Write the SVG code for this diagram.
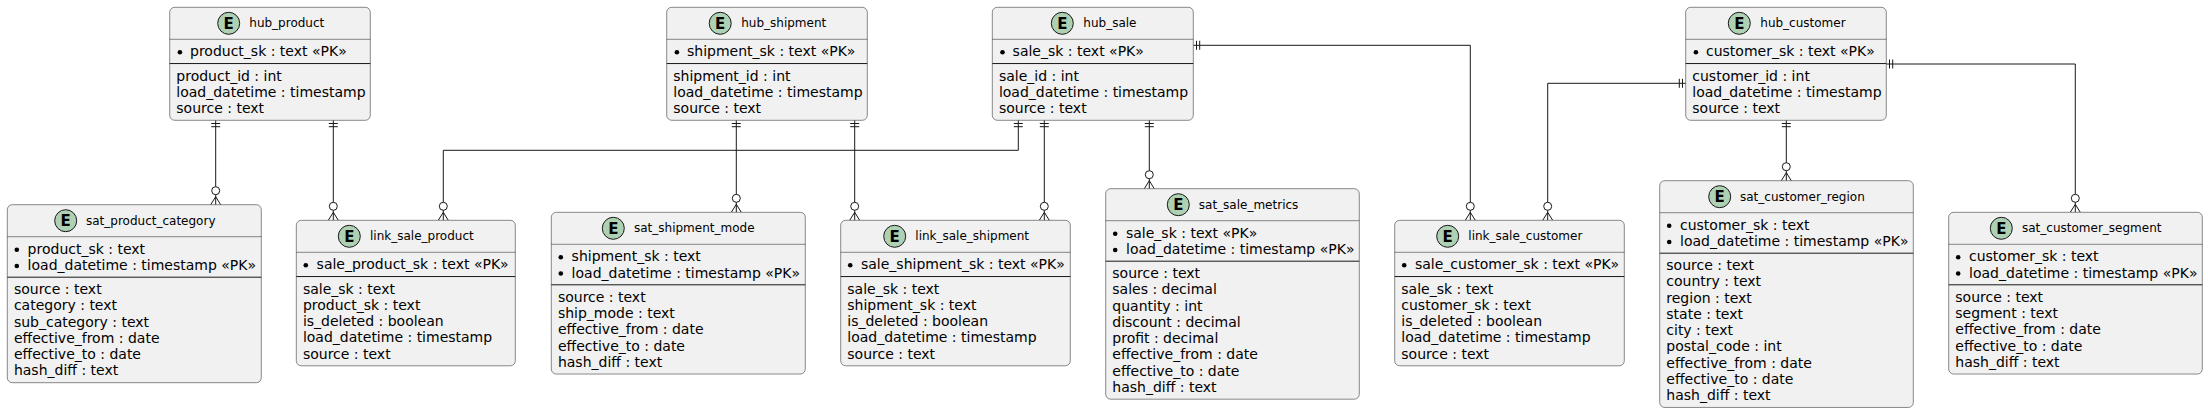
<svg xmlns="http://www.w3.org/2000/svg" xmlns:xlink="http://www.w3.org/1999/xlink" width="2208" height="413" viewBox="0 0 2208 413">
<style>
.box{fill:#F1F1F1;stroke:#181818;stroke-width:0.5}
.hs{stroke:#181818;stroke-width:0.5}
.ts{stroke:#181818;stroke-width:1}
.ec{fill:#ADD1B2;stroke:#181818;stroke-width:1}
.el{font-family:"DejaVu Sans",sans-serif;font-weight:bold;font-size:15px;text-anchor:middle;fill:#000}
.tt{font-family:"DejaVu Sans",sans-serif;font-size:12px;fill:#000}
.at{font-family:"DejaVu Sans",sans-serif;font-size:14px;fill:#000}
.bl{fill:#000}
.cn{fill:none;stroke:#181818;stroke-width:1}
</style>
<defs>
<g id="many" class="cn"><circle cx="0" cy="-14" r="4"/><path d="M-5,0 L0,-8 L5,0 M0,-10 V0"/></g>
<g id="oneD" class="cn"><path d="M-4.5,3.2 H4.5 M-4.5,6.4 H4.5"/></g>
<g id="oneR" class="cn"><path d="M3.2,-4.5 V4.5 M6.4,-4.5 V4.5"/></g>
<g id="oneL" class="cn"><path d="M-3.2,-4.5 V4.5 M-6.4,-4.5 V4.5"/></g>
</defs>
<g id="connectors">
<path class="cn" d="M215.7,120.3 V186.7"/>
<path class="cn" d="M333.3,120.3 V202.3"/>
<path class="cn" d="M1018.3,120.3 V150.3 H443.3 V202.3"/>
<path class="cn" d="M736.3,120.3 V194.3"/>
<path class="cn" d="M854.7,120.3 V202.3"/>
<path class="cn" d="M1044.3,120.3 V202.3"/>
<path class="cn" d="M1149.3,120.3 V170.7"/>
<path class="cn" d="M1193.3,45.3 H1470.3 V202.3"/>
<path class="cn" d="M1685.7,83.3 H1547.7 V202.3"/>
<path class="cn" d="M1786.3,120.3 V162.7"/>
<path class="cn" d="M1886.3,64 H2075.3 V194.3"/>
<use xlink:href="#oneD" x="215.7" y="120.3"/>
<use xlink:href="#oneD" x="333.3" y="120.3"/>
<use xlink:href="#oneD" x="1018.3" y="120.3"/>
<use xlink:href="#oneD" x="736.3" y="120.3"/>
<use xlink:href="#oneD" x="854.7" y="120.3"/>
<use xlink:href="#oneD" x="1044.3" y="120.3"/>
<use xlink:href="#oneD" x="1149.3" y="120.3"/>
<use xlink:href="#oneD" x="1786.3" y="120.3"/>
<use xlink:href="#oneR" x="1193.3" y="45.3"/>
<use xlink:href="#oneR" x="1886.3" y="64"/>
<use xlink:href="#oneL" x="1685.7" y="83.3"/>
<use xlink:href="#many" x="215.7" y="204.7"/>
<use xlink:href="#many" x="333.3" y="220.3"/>
<use xlink:href="#many" x="443.3" y="220.3"/>
<use xlink:href="#many" x="736.3" y="212.3"/>
<use xlink:href="#many" x="854.7" y="220.3"/>
<use xlink:href="#many" x="1044.3" y="220.3"/>
<use xlink:href="#many" x="1149.3" y="188.7"/>
<use xlink:href="#many" x="1470.3" y="220.3"/>
<use xlink:href="#many" x="1547.7" y="220.3"/>
<use xlink:href="#many" x="1786.3" y="180.7"/>
<use xlink:href="#many" x="2075.3" y="212.3"/>
</g>

<g id="hub_product" transform="translate(169.7,7.3)">
<rect class="box" width="200.6" height="113" rx="5"/>
<line class="hs" x1="0" x2="200.6" y1="32" y2="32"/>
<circle class="ec" cx="59" cy="16" r="11"/><text class="el" x="59" y="21.5">E</text>
<text class="tt" x="79.6" y="20">hub_product</text>
<circle class="bl" cx="10.2" cy="45" r="2.3"/><text class="at" x="20.3" y="49">product_sk : text «PK»</text>
<line class="ts" x1="0" x2="200.6" y1="56.25" y2="56.25"/>
<text class="at" x="6.6" y="73.25">product_id : int</text>
<text class="at" x="6.6" y="89.5">load_datetime : timestamp</text>
<text class="at" x="6.6" y="105.75">source : text</text>
</g>

<g id="hub_shipment" transform="translate(666.7,7.3)">
<rect class="box" width="200.6" height="113" rx="5"/>
<line class="hs" x1="0" x2="200.6" y1="32" y2="32"/>
<circle class="ec" cx="53.5" cy="16" r="11"/><text class="el" x="53.5" y="21.5">E</text>
<text class="tt" x="74.5" y="20">hub_shipment</text>
<circle class="bl" cx="10.2" cy="45" r="2.3"/><text class="at" x="20.3" y="49">shipment_sk : text «PK»</text>
<line class="ts" x1="0" x2="200.6" y1="56.25" y2="56.25"/>
<text class="at" x="6.6" y="73.25">shipment_id : int</text>
<text class="at" x="6.6" y="89.5">load_datetime : timestamp</text>
<text class="at" x="6.6" y="105.75">source : text</text>
</g>

<g id="hub_sale" transform="translate(992.3,7.3)">
<rect class="box" width="201" height="113" rx="5"/>
<line class="hs" x1="0" x2="201" y1="32" y2="32"/>
<circle class="ec" cx="70" cy="16" r="11"/><text class="el" x="70" y="21.5">E</text>
<text class="tt" x="91" y="20">hub_sale</text>
<circle class="bl" cx="10.2" cy="45" r="2.3"/><text class="at" x="20.3" y="49">sale_sk : text «PK»</text>
<line class="ts" x1="0" x2="201" y1="56.25" y2="56.25"/>
<text class="at" x="6.6" y="73.25">sale_id : int</text>
<text class="at" x="6.6" y="89.5">load_datetime : timestamp</text>
<text class="at" x="6.6" y="105.75">source : text</text>
</g>

<g id="hub_customer" transform="translate(1685.7,7.3)">
<rect class="box" width="200.6" height="113" rx="5"/>
<line class="hs" x1="0" x2="200.6" y1="32" y2="32"/>
<circle class="ec" cx="53.6" cy="16" r="11"/><text class="el" x="53.6" y="21.5">E</text>
<text class="tt" x="74.6" y="20">hub_customer</text>
<circle class="bl" cx="10.2" cy="45" r="2.3"/><text class="at" x="20.3" y="49">customer_sk : text «PK»</text>
<line class="ts" x1="0" x2="200.6" y1="56.25" y2="56.25"/>
<text class="at" x="6.6" y="73.25">customer_id : int</text>
<text class="at" x="6.6" y="89.5">load_datetime : timestamp</text>
<text class="at" x="6.6" y="105.75">source : text</text>
</g>

<g id="sat_product_category" transform="translate(7.3,204.7)">
<rect class="box" width="254" height="178" rx="5"/>
<line class="hs" x1="0" x2="254" y1="32" y2="32"/>
<circle class="ec" cx="58.4" cy="16" r="11"/><text class="el" x="58.4" y="21.5">E</text>
<text class="tt" x="78.7" y="20">sat_product_category</text>
<circle class="bl" cx="9.5" cy="45" r="2.3"/><text class="at" x="20.3" y="49">product_sk : text</text>
<circle class="bl" cx="9.5" cy="61.25" r="2.3"/><text class="at" x="20.3" y="65.25">load_datetime : timestamp «PK»</text>
<line class="ts" x1="0" x2="254" y1="72.5" y2="72.5"/>
<text class="at" x="6.6" y="89.5">source : text</text>
<text class="at" x="6.6" y="105.75">category : text</text>
<text class="at" x="6.6" y="122">sub_category : text</text>
<text class="at" x="6.6" y="138.25">effective_from : date</text>
<text class="at" x="6.6" y="154.5">effective_to : date</text>
<text class="at" x="6.6" y="170.75">hash_diff : text</text>
</g>

<g id="link_sale_product" transform="translate(296.3,220.3)">
<rect class="box" width="219" height="145.5" rx="5"/>
<line class="hs" x1="0" x2="219" y1="32" y2="32"/>
<circle class="ec" cx="53" cy="16" r="11"/><text class="el" x="53" y="21.5">E</text>
<text class="tt" x="73.7" y="20">link_sale_product</text>
<circle class="bl" cx="9.5" cy="45" r="2.3"/><text class="at" x="20.3" y="49">sale_product_sk : text «PK»</text>
<line class="ts" x1="0" x2="219" y1="56.25" y2="56.25"/>
<text class="at" x="6.6" y="73.25">sale_sk : text</text>
<text class="at" x="6.6" y="89.5">product_sk : text</text>
<text class="at" x="6.6" y="105.75">is_deleted : boolean</text>
<text class="at" x="6.6" y="122">load_datetime : timestamp</text>
<text class="at" x="6.6" y="138.25">source : text</text>
</g>

<g id="sat_shipment_mode" transform="translate(551.3,212.3)">
<rect class="box" width="254" height="161.75" rx="5"/>
<line class="hs" x1="0" x2="254" y1="32" y2="32"/>
<circle class="ec" cx="62" cy="16" r="11"/><text class="el" x="62" y="21.5">E</text>
<text class="tt" x="82.7" y="20">sat_shipment_mode</text>
<circle class="bl" cx="9.5" cy="45" r="2.3"/><text class="at" x="20.3" y="49">shipment_sk : text</text>
<circle class="bl" cx="9.5" cy="61.25" r="2.3"/><text class="at" x="20.3" y="65.25">load_datetime : timestamp «PK»</text>
<line class="ts" x1="0" x2="254" y1="72.5" y2="72.5"/>
<text class="at" x="6.6" y="89.5">source : text</text>
<text class="at" x="6.6" y="105.75">ship_mode : text</text>
<text class="at" x="6.6" y="122">effective_from : date</text>
<text class="at" x="6.6" y="138.25">effective_to : date</text>
<text class="at" x="6.6" y="154.5">hash_diff : text</text>
</g>

<g id="link_sale_shipment" transform="translate(840.7,220.3)">
<rect class="box" width="229.6" height="145.5" rx="5"/>
<line class="hs" x1="0" x2="229.6" y1="32" y2="32"/>
<circle class="ec" cx="54" cy="16" r="11"/><text class="el" x="54" y="21.5">E</text>
<text class="tt" x="74.6" y="20">link_sale_shipment</text>
<circle class="bl" cx="9.5" cy="45" r="2.3"/><text class="at" x="20.3" y="49">sale_shipment_sk : text «PK»</text>
<line class="ts" x1="0" x2="229.6" y1="56.25" y2="56.25"/>
<text class="at" x="6.6" y="73.25">sale_sk : text</text>
<text class="at" x="6.6" y="89.5">shipment_sk : text</text>
<text class="at" x="6.6" y="105.75">is_deleted : boolean</text>
<text class="at" x="6.6" y="122">load_datetime : timestamp</text>
<text class="at" x="6.6" y="138.25">source : text</text>
</g>

<g id="sat_sale_metrics" transform="translate(1105.7,188.7)">
<rect class="box" width="253.6" height="210.5" rx="5"/>
<line class="hs" x1="0" x2="253.6" y1="32" y2="32"/>
<circle class="ec" cx="72.6" cy="16" r="11"/><text class="el" x="72.6" y="21.5">E</text>
<text class="tt" x="93.1" y="20">sat_sale_metrics</text>
<circle class="bl" cx="9.5" cy="45" r="2.3"/><text class="at" x="20.3" y="49">sale_sk : text «PK»</text>
<circle class="bl" cx="9.5" cy="61.25" r="2.3"/><text class="at" x="20.3" y="65.25">load_datetime : timestamp «PK»</text>
<line class="ts" x1="0" x2="253.6" y1="72.5" y2="72.5"/>
<text class="at" x="6.6" y="89.5">source : text</text>
<text class="at" x="6.6" y="105.75">sales : decimal</text>
<text class="at" x="6.6" y="122">quantity : int</text>
<text class="at" x="6.6" y="138.25">discount : decimal</text>
<text class="at" x="6.6" y="154.5">profit : decimal</text>
<text class="at" x="6.6" y="170.75">effective_from : date</text>
<text class="at" x="6.6" y="187">effective_to : date</text>
<text class="at" x="6.6" y="203.25">hash_diff : text</text>
</g>

<g id="link_sale_customer" transform="translate(1394.7,220.3)">
<rect class="box" width="229.6" height="145.5" rx="5"/>
<line class="hs" x1="0" x2="229.6" y1="32" y2="32"/>
<circle class="ec" cx="53" cy="16" r="11"/><text class="el" x="53" y="21.5">E</text>
<text class="tt" x="73.6" y="20">link_sale_customer</text>
<circle class="bl" cx="9.5" cy="45" r="2.3"/><text class="at" x="20.3" y="49">sale_customer_sk : text «PK»</text>
<line class="ts" x1="0" x2="229.6" y1="56.25" y2="56.25"/>
<text class="at" x="6.6" y="73.25">sale_sk : text</text>
<text class="at" x="6.6" y="89.5">customer_sk : text</text>
<text class="at" x="6.6" y="105.75">is_deleted : boolean</text>
<text class="at" x="6.6" y="122">load_datetime : timestamp</text>
<text class="at" x="6.6" y="138.25">source : text</text>
</g>

<g id="sat_customer_region" transform="translate(1659.7,180.7)">
<rect class="box" width="253.6" height="226.75" rx="5"/>
<line class="hs" x1="0" x2="253.6" y1="32" y2="32"/>
<circle class="ec" cx="60" cy="16" r="11"/><text class="el" x="60" y="21.5">E</text>
<text class="tt" x="80.3" y="20">sat_customer_region</text>
<circle class="bl" cx="9.5" cy="45" r="2.3"/><text class="at" x="20.3" y="49">customer_sk : text</text>
<circle class="bl" cx="9.5" cy="61.25" r="2.3"/><text class="at" x="20.3" y="65.25">load_datetime : timestamp «PK»</text>
<line class="ts" x1="0" x2="253.6" y1="72.5" y2="72.5"/>
<text class="at" x="6.6" y="89.5">source : text</text>
<text class="at" x="6.6" y="105.75">country : text</text>
<text class="at" x="6.6" y="122">region : text</text>
<text class="at" x="6.6" y="138.25">state : text</text>
<text class="at" x="6.6" y="154.5">city : text</text>
<text class="at" x="6.6" y="170.75">postal_code : int</text>
<text class="at" x="6.6" y="187">effective_from : date</text>
<text class="at" x="6.6" y="203.25">effective_to : date</text>
<text class="at" x="6.6" y="219.5">hash_diff : text</text>
</g>

<g id="sat_customer_segment" transform="translate(1948.7,212.3)">
<rect class="box" width="253.6" height="161.75" rx="5"/>
<line class="hs" x1="0" x2="253.6" y1="32" y2="32"/>
<circle class="ec" cx="52.6" cy="16" r="11"/><text class="el" x="52.6" y="21.5">E</text>
<text class="tt" x="73.3" y="20">sat_customer_segment</text>
<circle class="bl" cx="9.5" cy="45" r="2.3"/><text class="at" x="20.3" y="49">customer_sk : text</text>
<circle class="bl" cx="9.5" cy="61.25" r="2.3"/><text class="at" x="20.3" y="65.25">load_datetime : timestamp «PK»</text>
<line class="ts" x1="0" x2="253.6" y1="72.5" y2="72.5"/>
<text class="at" x="6.6" y="89.5">source : text</text>
<text class="at" x="6.6" y="105.75">segment : text</text>
<text class="at" x="6.6" y="122">effective_from : date</text>
<text class="at" x="6.6" y="138.25">effective_to : date</text>
<text class="at" x="6.6" y="154.5">hash_diff : text</text>
</g>
</svg>
